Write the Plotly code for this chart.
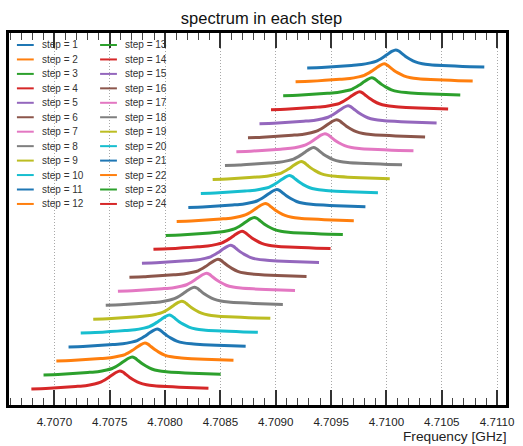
import plotly.graph_objects as go

# ---------------- data ----------------
step_labels = [f"step = {i}" for i in range(1, 25)]

# peak (resonance) frequency of each step in GHz
peak_ghz = [4.710084, 4.709979, 4.709867, 4.709757, 4.709653, 4.709549,
            4.709444, 4.709341, 4.709230, 4.709123, 4.709010, 4.708905,
            4.708806, 4.708695, 4.708591, 4.708478, 4.708374, 4.708264,
            4.708151, 4.708038, 4.707928, 4.707818, 4.707702, 4.707592]

# vertical offset used to stack the spectra
stack_offset = [23, 22, 21, 20, 19, 18, 17, 16, 15, 14, 13, 12,
                11, 10, 9, 8, 7, 6, 5, 4, 3, 2, 1, 0]

# measured line profile (detuning from peak in MHz, amplitude in a.u.)
profile_mhz = [-0.80, -0.67, -0.535, -0.40, -0.31, -0.23, -0.18, -0.116,
               -0.071, -0.036, 0.0, 0.027, 0.054, 0.089, 0.125, 0.178,
               0.24, 0.31, 0.42, 0.535, 0.67, 0.80]
profile_amp = [0.0, 0.036, 0.107, 0.18, 0.236, 0.357, 0.464, 0.75,
               1.0, 1.18, 1.29, 1.21, 1.04, 0.82, 0.64, 0.43,
               0.30, 0.23, 0.17, 0.13, 0.086, 0.057]

palette = ["#1f77b4", "#ff7f0e", "#2ca02c", "#d62728", "#9467bd",
           "#8c564b", "#e377c2", "#7f7f7f", "#bcbd22", "#17becf"]

FONT = "Liberation Sans, Arial, Helvetica, sans-serif"
W, H = 523, 446
ML, MR, MT, MB = 9, 12, 33, 41
PW, PH = W - ML - MR, H - MT - MB

fig = go.Figure()
for i, lab in enumerate(step_labels):
    xs = [peak_ghz[i] + d * 1e-3 for d in profile_mhz]
    ys = [stack_offset[i] + a for a in profile_amp]
    fig.add_trace(go.Scatter(
        x=xs, y=ys, mode="lines", name=lab, showlegend=False,
        line=dict(color=palette[i % 10], width=3, shape="spline", smoothing=0.6),
        hoverinfo="skip"))

# ---------------- legend (two columns, drawn as shapes + text) ----------------
def px2paper_x(px):
    return (px - ML) / PW

def px2paper_y(py):
    return (H - MB - py) / PH

shapes = []
annotations = []
row0, row_gap = 45.0, 14.45
cols = [(17, 34, 40.5), (101, 118, 124.5)]
for i, lab in enumerate(step_labels):
    c, r = divmod(i, 12)
    x0, x1, xt = cols[c]
    yy = row0 + r * row_gap
    shapes.append(dict(type="line", xref="paper", yref="paper",
                       x0=px2paper_x(x0), x1=px2paper_x(x1),
                       y0=px2paper_y(yy), y1=px2paper_y(yy),
                       line=dict(color=palette[i % 10], width=2)))
    annotations.append(dict(text=lab, xref="paper", yref="paper",
                            x=px2paper_x(xt), y=px2paper_y(yy),
                            xanchor="left", yanchor="middle", showarrow=False,
                            font=dict(family=FONT, size=10, color="#333333")))

# x axis label at lower right
annotations.append(dict(text="Frequency [GHz]", xref="paper", yref="paper",
                        x=px2paper_x(513), y=px2paper_y(436),
                        xanchor="right", yanchor="middle", showarrow=False,
                        font=dict(family=FONT, size=13.7, color="#222222")))

fig.update_layout(
    width=W, height=H,
    margin=dict(l=ML, r=MR, t=MT, b=MB),
    paper_bgcolor="white", plot_bgcolor="white",
    title=dict(text="spectrum in each step", x=0.5, xanchor="center",
               y=1 - 18 / H, yanchor="middle", yref="container",
               font=dict(family=FONT, size=16.5, color="#111111")),
    shapes=shapes, annotations=annotations,
    showlegend=False,
)

fig.update_xaxes(
    range=[4.70659, 4.71108],
    tick0=4.7070, dtick=0.0005, tickformat=".4f",
    ticks="inside", ticklen=15, tickwidth=1.5, tickcolor="#333333",
    showline=True, linewidth=3, linecolor="black", mirror="allticks",
    showgrid=True, gridcolor="#a8a8a8", griddash="1px,2px", gridwidth=1,
    zeroline=False, ticklabelstandoff=4,
    tickfont=dict(family=FONT, size=11.6, color="#222222"),
    minor=dict(ticks="inside", ticklen=7, tickwidth=1, tickcolor="#444444",
               tick0=4.7070, dtick=0.0001, showgrid=False),
)
fig.update_yaxes(
    range=[-1.15, 25.5],
    showticklabels=False, ticks="",
    showline=True, linewidth=3, linecolor="black", mirror=True,
    showgrid=False, zeroline=False,
)

fig.write_html(
    "out.html",
    config={"displayModeBar": False},
    post_script="document.body.style.margin='0';document.body.style.overflow='hidden';",
)
